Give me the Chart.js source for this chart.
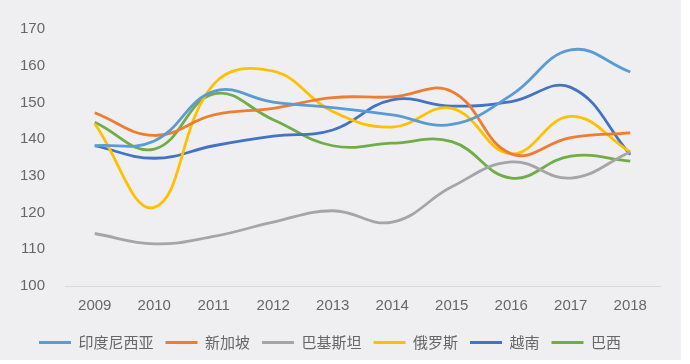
<!DOCTYPE html>
<html>
<head>
<meta charset="utf-8">
<script src="https://cdn.jsdelivr.net/npm/chart.js@4/dist/chart.umd.min.js"></script>
<style>
  html, body { margin: 0; padding: 0; background: #ffffff; }
  #wrap { width: 690px; height: 364px; position: relative; }
</style>
</head>
<body>
<div id="wrap"><canvas id="c" width="690" height="364"></canvas></div>
<script>
const years = ['2009','2010','2011','2012','2013','2014','2015','2016','2017','2018'];
const indonesia = [138.2, 139.5, 153.0, 150.1, 148.6, 146.6, 144.0, 152.0, 164.3, 158.3];
const singapore = [147.2, 141.0, 146.6, 148.4, 151.3, 151.5, 153.0, 136.0, 140.4, 141.7];
const pakistan  = [114.3, 111.5, 113.5, 117.4, 120.5, 117.4, 127.0, 133.8, 129.4, 136.5];
const russia    = [144.2, 121.4, 155.0, 158.5, 147.5, 143.3, 148.4, 136.0, 146.2, 136.5];
const vietnam   = [138.2, 134.8, 138.2, 140.8, 142.5, 150.7, 149.0, 150.2, 154.1, 135.8];
const brazil    = [144.6, 137.3, 152.3, 145.3, 138.2, 138.9, 139.3, 129.4, 135.4, 134.0];
const seriesNames = ['印度尼西亚','新加坡','巴基斯坦','俄罗斯','越南','巴西'];
const seriesColors = ['#5b9bd5','#ed7d31','#a5a5a5','#ffc000','#4472c4','#70ad47'];
const yTicks = [100,110,120,130,140,150,160,170];

const allSeries = [indonesia, singapore, pakistan, russia, vietnam, brazil];

const bgPlugin = {
  id: 'bg',
  beforeDraw(chart) {
    const ctx = chart.ctx;
    ctx.save();
    ctx.fillStyle = '#ffffff';
    ctx.fillRect(0, 0, chart.width, chart.height);
    ctx.fillStyle = '#efeff1';
    ctx.fillRect(0, 0, 681, 360);
    ctx.restore();
  }
};

const textColor = '#666666';
const fontFamily = '"Liberation Sans", "Noto Sans CJK SC", sans-serif';

new Chart(document.getElementById('c'), {
  type: 'line',
  data: {
    labels: years,
    datasets: allSeries.map((d, i) => ({
      label: seriesNames[i],
      data: d,
      borderColor: seriesColors[i],
      backgroundColor: seriesColors[i],
      borderWidth: 2.8,
      pointRadius: 0,
      fill: false,
      tension: 0.42
    }))
  },
  options: {
    responsive: false,
    animation: false,
    layout: { padding: { top: 20, right: 30, bottom: 4, left: 0 } },
    plugins: {
      tooltip: { enabled: false },
      legend: {
        position: 'bottom',
        maxWidth: 690,
        labels: {
          color: textColor,
          font: { family: '"Noto Sans CJK SC", sans-serif', size: 15 },
          boxWidth: 32,
          boxHeight: 3,
          padding: 12,
          generateLabels(chart) {
            const items = Chart.defaults.plugins.legend.labels.generateLabels(chart);
            items.forEach(it => { it.lineWidth = 0; });
            return items;
          }
        }
      }
    },
    scales: {
      x: {
        offset: true,
        grid: { display: false, drawTicks: false },
        border: { display: true, color: '#d9d9d9', width: 1 },
        ticks: { color: textColor, font: { family: fontFamily, size: 15 }, padding: 11, maxRotation: 0 },
        afterFit(s) { s.height = 37; }
      },
      y: {
        min: 100,
        max: 170,
        afterBuildTicks(s) { s.ticks = yTicks.map(v => ({ value: v })); },
        grid: { display: false, drawTicks: false },
        border: { display: false },
        ticks: { color: textColor, font: { family: fontFamily, size: 15 }, padding: 20 },
        afterFit(s) { s.width = 65; }
      }
    }
  },
  plugins: [bgPlugin]
});
</script>
</body>
</html>
